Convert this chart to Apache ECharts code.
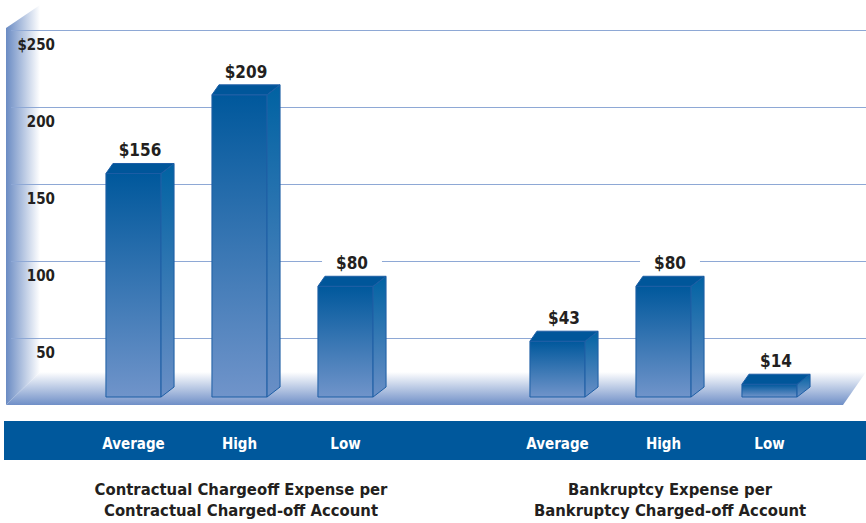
<!DOCTYPE html>
<html>
<head>
<meta charset="utf-8">
<script src="https://cdn.jsdelivr.net/npm/echarts@6/dist/echarts.min.js"></script>
<style>
html, body { margin: 0; padding: 0; background: #fff; }
#chart { width: 866px; height: 523px; }
</style>
</head>
<body>
<div id="chart"></div>
<script>
// data
const categories = ["Average", "High", "Low"];
const contractual = [156, 209, 80];
const bankruptcy = [43, 80, 14];
const groupTitles = [
  "Contractual Chargeoff Expense per\nContractual Charged-off Account",
  "Bankruptcy Expense per\nBankruptcy Charged-off Account",
];
const yTicks = [50, 100, 150, 200, 250];

const FONT = '"Liberation Sans Narrow", "DejaVu Sans Condensed", "Roboto Condensed", "Liberation Sans", Arial, sans-serif';
const TEXT = "#231f20";
const BLUE = "#00589c";

// one empty slot between the two groups
const xData = categories.concat([""], categories);
const barData = contractual
  .map((v, i) => [i, v])
  .concat(bankruptcy.map((v, i) => [i + categories.length + 1, v]));

const grad = (c0, c1) =>
  new echarts.graphic.LinearGradient(0, 0, 0, 1, [
    { offset: 0, color: c0 },
    { offset: 1, color: c1 },
  ]);

// 3D box bar
const renderBar = (params, api) => {
  const v = api.value(1);
  const top = api.coord([api.value(0), v]);
  const base = api.coord([api.value(0), 0]);
  const w = api.size([1, 0])[0] * 0.52;
  const x0 = top[0] - w / 2;
  const x1 = top[0] + w / 2;
  const yT = top[1];
  const yB = base[1] - 8;
  const dx = 13;
  const dy = 10;
  const edge = "#1d5ea5";
  return {
    type: "group",
    children: [
      {
        type: "rect",
        shape: { x: x0, y: yT, width: w, height: yB - yT },
        style: { fill: grad("#00589c", "#7094ca"), stroke: edge, lineWidth: 1 },
      },
      {
        type: "polygon",
        shape: { points: [[x1, yT], [x1 + dx, yT - dy], [x1 + dx, yB - dy], [x1, yB]] },
        style: { fill: grad("#0062a2", "#6a8fc6"), stroke: edge, lineWidth: 1 },
      },
      {
        type: "polygon",
        shape: { points: [[x0, yT], [x0 + 7, yT - dy], [x1 + dx, yT - dy], [x1, yT]] },
        style: { fill: "#00569a", stroke: edge, lineWidth: 1 },
      },
      {
        type: "text",
        x: (x0 + x1 + dx) / 2,
        y: yT - 23,
        style: {
          text: "$" + v,
          fill: TEXT,
          fontFamily: FONT,
          fontWeight: "bold",
          fontSize: 17,
          align: "center",
          verticalAlign: "middle",
          backgroundColor: "#fff",
          padding: [3, 14],
        },
      },
    ],
  };
};

const option = {
  animation: false,
  grid: [
    // grid lines and y labels
    { left: 11, right: 0, top: 30, bottom: 108 },
    // bars
    { left: 80.5, width: 742, top: 34, bottom: 118 },
  ],
  xAxis: [
    { gridIndex: 0, type: "value", show: false, min: 0, max: 1 },
    {
      gridIndex: 1,
      type: "category",
      data: xData,
      z: 10,
      axisLine: { show: false },
      axisTick: { show: false },
      axisLabel: {
        margin: 31,
        color: "#fff",
        fontFamily: FONT,
        fontWeight: "bold",
        fontSize: 15,
        interval: 0,
      },
    },
  ],
  yAxis: [
    {
      gridIndex: 0,
      type: "value",
      min: 0,
      max: 250,
      interval: 50,
      z: 1,
      axisLine: { show: false },
      axisTick: { show: false },
      splitLine: { showMinLine: false, lineStyle: { color: "#8ea8d5", width: 1 } },
      axisLabel: {
        inside: true,
        margin: 44,
        align: "right",
        verticalAlign: "top",
        padding: [7, 0, 0, 0],
        color: TEXT,
        fontFamily: FONT,
        fontWeight: "bold",
        fontSize: 15,
        formatter: (v) =>
          yTicks.indexOf(v) < 0 ? "" : v === yTicks[yTicks.length - 1] ? "$" + v : String(v),
      },
    },
    { gridIndex: 1, type: "value", min: 0, max: 250, show: false },
  ],
  graphic: [
    {
      type: "polygon",
      z: 0,
      shape: { points: [[6, 28], [40, 5], [40, 372], [6, 405]] },
      style: {
        fill: {
          type: "linear", x: 0, y: 0, x2: 1, y2: 0,
          colorStops: [
            { offset: 0, color: "#6a8bc3" },
            { offset: 1, color: "#ffffff" },
          ],
        },
      },
    },
    {
      type: "polygon",
      z: 0,
      shape: { points: [[6, 405], [40, 372], [866, 372], [843, 405]] },
      style: {
        fill: {
          type: "linear", x: 0, y: 0, x2: 0, y2: 1,
          colorStops: [
            { offset: 0, color: "#ffffff" },
            { offset: 1, color: "#6f8fc7" },
          ],
        },
      },
    },
    {
      type: "rect",
      z: 8,
      shape: { x: 4, y: 421, width: 862, height: 39 },
      style: { fill: BLUE },
    },
    ...groupTitles.map((t, i) => ({
      type: "text",
      z: 8,
      x: i === 0 ? 241 : 670,
      y: 479,
      style: {
        text: t,
        fill: TEXT,
        fontFamily: FONT,
        fontWeight: "bold",
        fontSize: 16.5,
        lineHeight: 21,
        align: "center",
        verticalAlign: "top",
      },
    })),
  ],
  series: [
    {
      type: "custom",
      xAxisIndex: 1,
      yAxisIndex: 1,
      z: 5,
      renderItem: renderBar,
      data: barData,
    },
  ],
};

echarts.init(document.getElementById("chart"), null, { renderer: "svg" }).setOption(option);
</script>
</body>
</html>
